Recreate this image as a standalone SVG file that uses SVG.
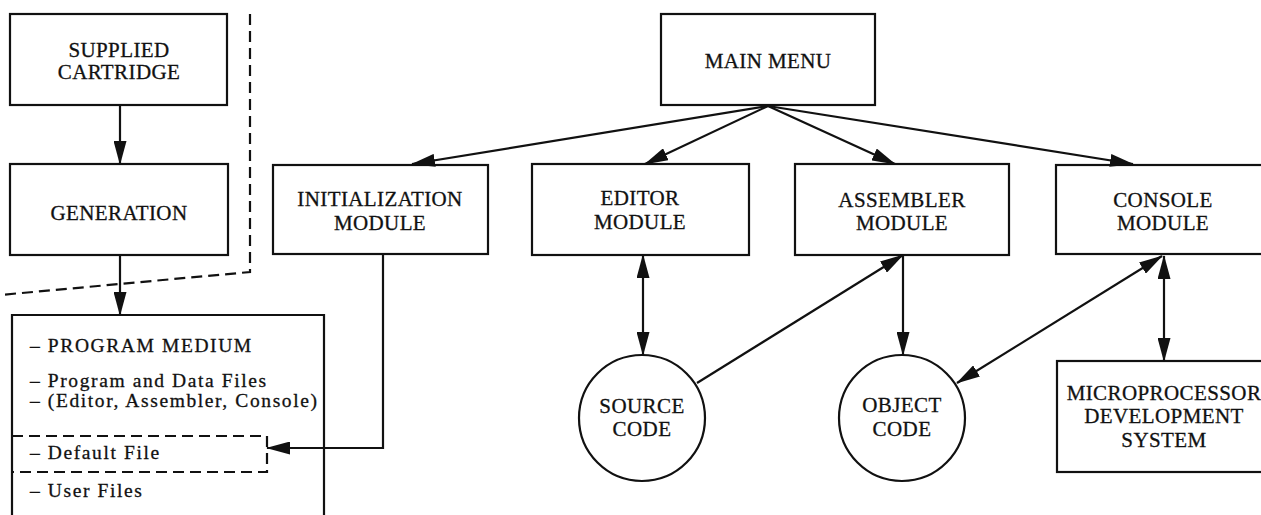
<svg xmlns="http://www.w3.org/2000/svg" width="1261" height="515" viewBox="0 0 1261 515">
  <style>
    .box { fill: none; stroke: #111; stroke-width: 2.2; }
    .dash { fill: none; stroke: #111; stroke-width: 2.2; stroke-dasharray: 11 6; }
    .lbl { font-family: "Liberation Serif", "Times New Roman", serif; font-size: 21px; letter-spacing: 0.4px; fill: #111; stroke: #111; stroke-width: 0.3; text-anchor: middle; }
    .item { font-family: "Liberation Serif", "Times New Roman", serif; font-size: 19.5px; letter-spacing: 1.6px; fill: #111; stroke: #111; stroke-width: 0.3; }
    .edge { fill: none; stroke: #111; stroke-width: 2.2; }
    .one { marker-end: url(#head); }
    .two { marker-start: url(#head); marker-end: url(#head); }
  </style>
  <defs>
    <marker id="head" markerUnits="userSpaceOnUse" markerWidth="24" markerHeight="13" refX="23" refY="6.5" orient="auto-start-reverse">
      <path d="M0,0 L24,6.5 L0,13 z" fill="#111"/>
    </marker>
  </defs>
  <rect width="1261" height="515" fill="#fff"/>

  <!-- boundary between cartridge side and the system -->
  <polyline class="dash" points="250,14 250,272 0,295"/>

  <g id="supplied-cartridge">
    <rect class="box" x="10" y="14" width="217" height="91"/>
    <text class="lbl" x="119" y="57">SUPPLIED</text>
    <text class="lbl" x="119" y="79">CARTRIDGE</text>
  </g>

  <g id="generation">
    <rect class="box" x="10" y="164" width="218" height="91"/>
    <text class="lbl" x="119" y="220">GENERATION</text>
  </g>

  <g id="program-medium">
    <path class="box" d="M12,517 V315 H324 V517"/>
    <text class="item" x="30" y="352">– PROGRAM MEDIUM</text>
    <text class="item" x="30" y="387">– Program and Data Files</text>
    <text class="item" x="30" y="407">– (Editor, Assembler, Console)</text>
    <text class="item" x="30" y="459">– Default File</text>
    <text class="item" x="30" y="497">– User Files</text>
  </g>

  <g id="default-file">
    <path class="dash" d="M12,436 H267 V472 H12"/>
  </g>

  <g id="initialization-module">
    <rect class="box" x="273" y="165" width="215" height="89"/>
    <text class="lbl" x="380" y="206">INITIALIZATION</text>
    <text class="lbl" x="380" y="230">MODULE</text>
  </g>

  <g id="main-menu">
    <rect class="box" x="661" y="14" width="214" height="91"/>
    <text class="lbl" x="768" y="68">MAIN MENU</text>
  </g>

  <g id="editor-module">
    <rect class="box" x="532" y="164" width="217" height="91"/>
    <text class="lbl" x="640" y="205">EDITOR</text>
    <text class="lbl" x="640" y="229">MODULE</text>
  </g>

  <g id="assembler-module">
    <rect class="box" x="795" y="164" width="214" height="91"/>
    <text class="lbl" x="902" y="207">ASSEMBLER</text>
    <text class="lbl" x="902" y="230">MODULE</text>
  </g>

  <g id="console-module">
    <rect class="box" x="1056" y="165" width="220" height="89"/>
    <text class="lbl" x="1163" y="207">CONSOLE</text>
    <text class="lbl" x="1163" y="230">MODULE</text>
  </g>

  <g id="source-code">
    <circle class="box" cx="642" cy="418" r="63"/>
    <text class="lbl" x="642" y="413">SOURCE</text>
    <text class="lbl" x="642" y="436">CODE</text>
  </g>

  <g id="object-code">
    <circle class="box" cx="902" cy="418" r="63"/>
    <text class="lbl" x="902" y="412">OBJECT</text>
    <text class="lbl" x="902" y="436">CODE</text>
  </g>

  <g id="development-system">
    <rect class="box" x="1057" y="361" width="220" height="111"/>
    <text class="lbl" x="1164" y="400">MICROPROCESSOR</text>
    <text class="lbl" x="1164" y="423">DEVELOPMENT</text>
    <text class="lbl" x="1164" y="447">SYSTEM</text>
  </g>

  <g id="connectors">
    <line class="edge one" x1="120" y1="105" x2="120" y2="164"/>
    <line class="edge one" x1="120" y1="255" x2="120" y2="315"/>
    <line class="edge one" x1="768" y1="106" x2="412" y2="164"/>
    <line class="edge one" x1="768" y1="106" x2="645" y2="164"/>
    <line class="edge one" x1="768" y1="106" x2="895" y2="164"/>
    <line class="edge one" x1="768" y1="106" x2="1133" y2="164"/>
    <polyline class="edge one" points="383,254 383,448 267,448"/>
    <line class="edge two" x1="643" y1="255" x2="643" y2="355"/>
    <line class="edge one" x1="697" y1="383" x2="903" y2="255"/>
    <line class="edge one" x1="903" y1="255" x2="903" y2="355"/>
    <line class="edge two" x1="1162" y1="256" x2="957" y2="383"/>
    <line class="edge two" x1="1164" y1="256" x2="1164" y2="361"/>
  </g>
</svg>
